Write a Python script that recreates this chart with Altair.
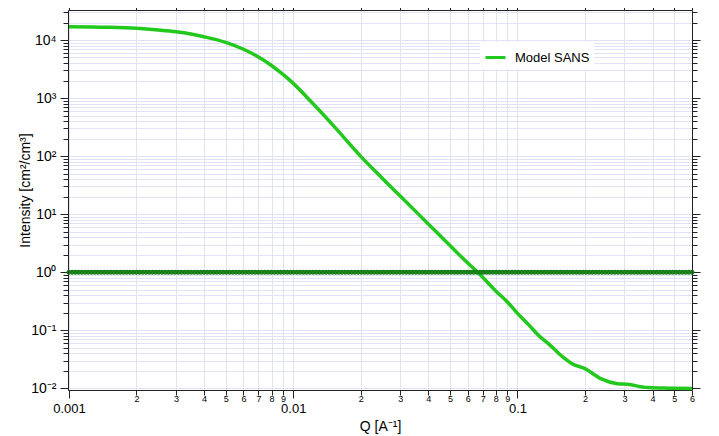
import altair as alt
import numpy as np
import pandas as pd

# Model SANS curve
q_model = [0.001, 0.0015, 0.002, 0.0025, 0.003, 0.0035, 0.004, 0.005, 0.006, 0.007,
           0.008, 0.009, 0.01, 0.012, 0.015, 0.02, 0.025, 0.03, 0.04, 0.05,
           0.06, 0.0665, 0.08, 0.09, 0.1, 0.112, 0.124, 0.14,
           0.159, 0.175, 0.2, 0.235, 0.279, 0.309, 0.379, 0.45, 0.5, 0.6]
i_model = [17000, 16600, 15900, 14900, 13900, 12700, 11400, 9120, 6940, 5100,
           3640, 2550, 1790, 872, 345, 99, 41.3, 20.5, 6.8, 2.89,
           1.44, 1.0, 0.476, 0.31, 0.195, 0.125, 0.082, 0.055,
           0.0347, 0.0266, 0.0218, 0.0147, 0.0120, 0.0117, 0.0103, 0.0101, 0.0100, 0.0099]

# flat reference line at 1 (markers evenly spaced on the Q grid)
q_flat = list(np.geomspace(0.001, 0.6, 195))
i_flat = [1.0] * len(q_flat)

series_name = ["Model SANS"]

x_ticks = [round(m * 10.0 ** e, 10) for e in (-3, -2, -1) for m in range(1, 10) if m * 10.0 ** e <= 0.6 + 1e-9]
y_ticks = [round(m * 10.0 ** e, 10) for e in range(-2, 5) for m in range(1, 10)
           if 0.0095 <= m * 10.0 ** e <= 32000]

model_df = pd.DataFrame({"Q": q_model, "I": i_model, "series": series_name[0]})
flat_df = pd.DataFrame({"Q": q_flat, "I": i_flat})

FONT = "Liberation Sans"
E = "floor(log(datum.value)/LN10 + 1e-6)"
M = f"round(datum.value/pow(10, {E}))"
major_test = f"{M} == 1"

xscale = alt.Scale(type="log", domain=[0.00099, 0.6], nice=False)
yscale = alt.Scale(type="log", domain=[0.00935, 32900], nice=False)

grid_color = "#e2e2f7"
axis_color = "#222222"

x_axis = alt.Axis(
    values=x_ticks,
    title="Q [A⁻¹]",
    titleFont=FONT, titleFontSize=14, titleFontWeight="normal", titleColor="black",
    titleY=36, titleBaseline="middle",
    labelExpr=f"{major_test} ? format(datum.value, '.' + (-{E}) + 'f') : '' + {M}",
    labelFont=FONT, labelColor="black",
    labelFontSize={"condition": {"test": major_test, "value": 13}, "value": 9},
    labelPadding={"condition": {"test": major_test, "value": 4}, "value": -1},
    labelBaseline="top",
    labelOverlap=False, labelFlush=False, labelBound=False,
    tickSize={"condition": {"test": major_test, "value": 8}, "value": 5},
    tickColor=axis_color, domainColor=axis_color, tickWidth=1, domainWidth=1,
    grid=True, gridColor=grid_color, gridWidth=1,
)
y_axis = alt.Axis(
    values=y_ticks,
    title="Intensity [cm²/cm³]",
    titleFont=FONT, titleFontSize=14, titleFontWeight="normal", titleColor="black",
    titleX=-43, titleY=180, titleBaseline="middle",
    labelExpr=f"{major_test} ? '10' + ['⁻²','⁻¹','⁰','¹','²','³','⁴'][{E}+2] : ''",
    labelFont=FONT, labelFontSize=14, labelColor="black",
    labelPadding=4,
    labelOverlap=False, labelFlush=False, labelBound=False,
    tickSize={"condition": {"test": major_test, "value": 8}, "value": 5},
    tickColor=axis_color, domainColor=axis_color, tickWidth=1, domainWidth=1,
    grid=True, gridColor=grid_color, gridWidth=1,
)
x_axis_top = alt.Axis(
    orient="top", values=x_ticks, title=None, labels=False, grid=False,
    tickSize={"condition": {"test": major_test, "value": 8}, "value": 5},
    tickColor=axis_color, domainColor=axis_color, tickWidth=1, domainWidth=1,
)
y_axis_right = alt.Axis(
    orient="right", values=y_ticks, title=None, labels=False, grid=False,
    tickSize={"condition": {"test": major_test, "value": 8}, "value": 5},
    tickColor=axis_color, domainColor=axis_color, tickWidth=1, domainWidth=1,
)

flat = alt.Chart(flat_df).mark_line(
    color="#1f8f1f", strokeWidth=2.5,
    point=alt.OverlayMarkDef(filled=False, size=12, color="#157a15", strokeWidth=1.5),
).encode(
    x=alt.X("Q:Q", scale=xscale, axis=x_axis_top),
    y=alt.Y("I:Q", scale=yscale, axis=y_axis_right),
)

curve = alt.Chart(model_df).mark_line(strokeWidth=3.5, interpolate="monotone").encode(
    x=alt.X("Q:Q", scale=xscale, axis=x_axis),
    y=alt.Y("I:Q", scale=yscale, axis=y_axis),
    color=alt.Color(
        "series:N",
        scale=alt.Scale(domain=series_name, range=["#22c81c"]),
        legend=alt.Legend(
            title=None, orient="none", legendX=412, legendY=32,
            symbolType="stroke", symbolSize=400, symbolStrokeWidth=3,
            labelFont=FONT, labelFontSize=13, labelColor="black", labelOffset=8,
            fillColor="white", padding=4,
        ),
    ),
)

chart = alt.layer(curve, flat).resolve_axis(x="independent", y="independent").properties(
    width=624, height=380,
    autosize=alt.AutoSizeParams(type="none"),
    padding={"left": 60, "top": 2, "right": 19, "bottom": 46},
).configure_view(stroke=None).configure(background="white")

chart.save("out.html", embed_options={"renderer": "svg", "actions": False})
